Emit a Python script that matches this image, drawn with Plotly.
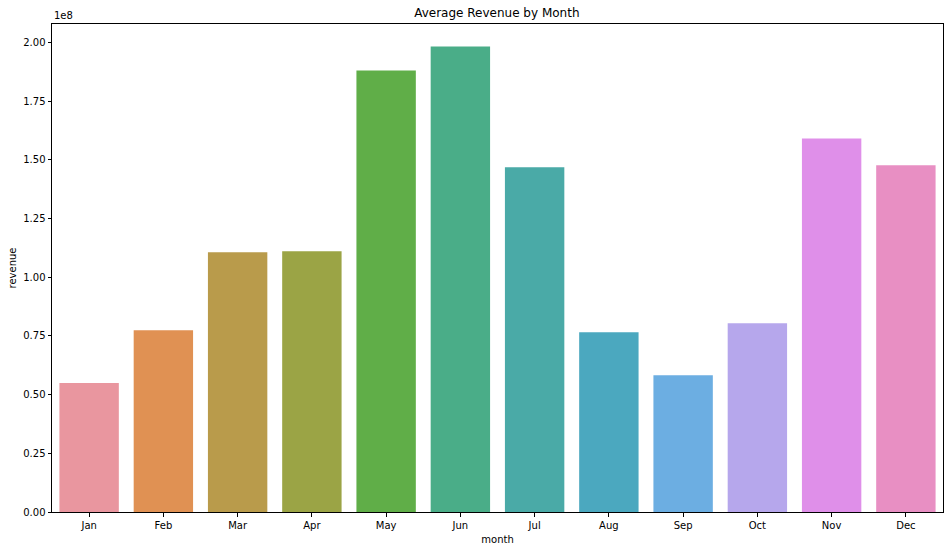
import plotly.graph_objects as go

months = ["Jan", "Feb", "Mar", "Apr", "May", "Jun", "Jul", "Aug", "Sep", "Oct", "Nov", "Dec"]
revenue = [0.549e8, 0.774e8, 1.106e8, 1.111e8, 1.881e8, 1.983e8, 1.468e8, 0.766e8, 0.583e8, 0.804e8, 1.591e8, 1.477e8]
colors = ["#e9969f", "#e09153", "#b99b4b", "#9ba445", "#60ae48", "#4aad88",
          "#4aaaa7", "#4ba8bf", "#6caee2", "#b6a7ec", "#df8fe9", "#e88fc3"]
ytick_vals = [0, 0.25e8, 0.5e8, 0.75e8, 1.0e8, 1.25e8, 1.5e8, 1.75e8, 2.0e8]
ytick_text = ["0.00", "0.25", "0.50", "0.75", "1.00", "1.25", "1.50", "1.75", "2.00"]

fig = go.Figure(go.Bar(x=months, y=revenue, marker=dict(color=colors, line=dict(width=0)), width=0.8))

axis_common = dict(showline=True, linecolor="black", linewidth=1, mirror=True,
                   ticks="outside", ticklen=3.5, tickwidth=1, tickcolor="black",
                   showgrid=False, zeroline=False,
                   tickfont=dict(family="DejaVu Sans", size=10, color="black"))

fig.update_layout(
    width=950, height=550,
    paper_bgcolor="white", plot_bgcolor="white",
    margin=dict(l=52, r=7, t=24, b=38),
    title=dict(text="Average Revenue by Month", x=0.523, xanchor="center", y=0.977, yanchor="middle",
               font=dict(family="DejaVu Sans", size=12, color="black")),
    xaxis=dict(title=dict(text="month", font=dict(family="DejaVu Sans", size=10, color="black"), standoff=6),
               range=[-0.5, 11.5], **axis_common),
    yaxis=dict(title=dict(text="revenue", font=dict(family="DejaVu Sans", size=10, color="black"), standoff=4),
               range=[0, 2.0787e8], tickvals=ytick_vals, ticktext=ytick_text, **axis_common),
    showlegend=False,
    annotations=[dict(text="1e8", xref="paper", yref="paper", x=0, y=1, xanchor="left", yanchor="bottom",
                      yshift=1, showarrow=False, font=dict(family="DejaVu Sans", size=10, color="black"))],
)

fig.write_html("out.html", config={"displayModeBar": False},
               post_script="document.body.style.margin='0';document.body.style.overflow='hidden';")
